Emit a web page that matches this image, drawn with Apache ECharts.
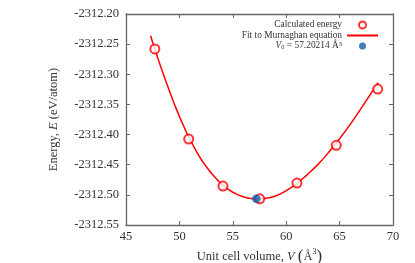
<!DOCTYPE html>
<html><head><meta charset="utf-8">
<script src="https://cdn.jsdelivr.net/npm/echarts@6/dist/echarts.min.js"></script>
<style>html,body{margin:0;padding:0;background:#fff}#c{width:415px;height:263px}</style>
</head><body><div id="c"></div>
<script>
// Calculated energies (V in Å^3, E in eV/atom)
const volumes = [47.7, 50.87, 54.08, 57.52, 61.01, 64.69, 68.57];
const energies = [-2312.258, -2312.4075, -2312.4855, -2312.5065, -2312.4805, -2312.4178, -2312.3245];
// Fit curve
const fitV = [47.3, 47.7, 48.5, 49.5, 50.5, 51.5, 52.5, 53.5, 54.5, 55.5, 56.5, 57.2, 58, 59, 60, 61, 62, 63, 64, 65, 66, 67, 68, 68.6];
const fitE = [-2312.236, -2312.258, -2312.300, -2312.348, -2312.390, -2312.425, -2312.453, -2312.474, -2312.490, -2312.500, -2312.5055, -2312.507, -2312.5062, -2312.502, -2312.493, -2312.481, -2312.466, -2312.449, -2312.429, -2312.407, -2312.383, -2312.357, -2312.330, -2312.314];
const v0 = [57.20214];
const e0 = [-2312.5065];
const xTicks = {min: 45, max: 70, interval: 5};
const yTicks = {min: -2312.55, max: -2312.20, interval: 0.05};

const FONT = 'Liberation Serif';
const chart = echarts.init(document.getElementById('c'));
const axisCommon = {
  axisLine: {show: true, lineStyle: {color: '#666', width: 1.3}},
  axisTick: {show: true, inside: true, length: 4, lineStyle: {color: '#666'}},
  splitLine: {show: false}
};
chart.setOption({
  animation: false,
  grid: {left: 126, right: 22, top: 14, bottom: 38, containLabel: false, outerBoundsMode: 'none'},
  xAxis: [
    Object.assign({type: 'value', min: xTicks.min, max: xTicks.max, interval: xTicks.interval, position: 'bottom',
      axisLabel: {color: '#333', fontFamily: FONT, fontSize: 12.5, margin: 5},
      name: '{n|Unit cell volume, }{i|V}{n| }{p|(}{n|Å}{s|3}{p|)}', nameLocation: 'middle', nameGap: 16,
      nameTextStyle: {rich: {
        n: {fontFamily: FONT, fontSize: 12.5, color: '#333'},
        i: {fontFamily: FONT, fontSize: 12.5, fontStyle: 'italic', color: '#333'},
        s: {fontFamily: FONT, fontSize: 8, color: '#333', verticalAlign: 'top', padding: [0,0,6,0]},
        p: {fontFamily: FONT, fontSize: 17, color: '#333'}
      }}}, axisCommon),
    Object.assign({type: 'value', min: xTicks.min, max: xTicks.max, interval: xTicks.interval, position: 'top',
      axisLabel: {show: false}}, axisCommon)
  ],
  yAxis: [
    Object.assign({type: 'value', min: yTicks.min, max: yTicks.max, interval: yTicks.interval, position: 'left', scale: true,
      axisLabel: {color: '#333', fontFamily: FONT, fontSize: 12.5, margin: 7, formatter: v => v.toFixed(2)},
      name: '{n|Energy, }{i|E}{n| (eV/atom)}', nameLocation: 'middle', nameGap: 66,
      nameTextStyle: {rich: {
        n: {fontFamily: FONT, fontSize: 12.5, color: '#333'},
        i: {fontFamily: FONT, fontSize: 12.5, fontStyle: 'italic', color: '#333'}
      }}}, axisCommon),
    Object.assign({type: 'value', min: yTicks.min, max: yTicks.max, interval: yTicks.interval, position: 'right', scale: true,
      axisLabel: {show: false}}, axisCommon)
  ],
  legend: {
    orient: 'vertical', right: 32, top: 15, align: 'right', itemWidth: 31, itemHeight: 7, itemGap: 0.5,
    textStyle: {fontFamily: FONT, fontSize: 9.4, color: '#333', lineHeight: 10,
      rich: {n: {fontFamily: FONT, fontSize: 9.4, color: '#333'},
             i: {fontFamily: FONT, fontSize: 9.4, fontStyle: 'italic', color: '#333'},
             b: {fontFamily: FONT, fontSize: 6.5, color: '#333', verticalAlign: 'bottom', padding: [4,0,0,0]},
             s: {fontFamily: FONT, fontSize: 6.5, color: '#333', verticalAlign: 'top', padding: [0,0,4,0]}}},
    formatter: name => name.startsWith('V0') ? '{i|V}{b|0}{n| = 57.20214 Å}{s|3}' : name,
    data: ['Calculated energy',
           {name: 'Fit to Murnaghan equation', icon: 'path://M0,0h31v2h-31z'},
           'V0']
  },
  series: [
    {name: 'Calculated energy', type: 'scatter', symbol: 'emptyCircle', symbolSize: 9, z: 3,
     itemStyle: {color: '#ff0000', borderColor: '#ff0000', borderWidth: 1.4},
     data: volumes.map((v, i) => [v, energies[i]])},
    {name: 'Fit to Murnaghan equation', type: 'line', smooth: true, symbol: 'none', z: 2,
     lineStyle: {color: '#ff0000', width: 1.5}, itemStyle: {color: '#ff0000'},
     data: fitV.map((v, i) => [v, fitE[i]])},
    {name: 'V0', type: 'scatter', symbol: 'circle', symbolSize: 8.5, z: 4,
     itemStyle: {color: '#135ba9'},
     data: v0.map((v, i) => [v, e0[i]])}
  ]
});
</script></body></html>
